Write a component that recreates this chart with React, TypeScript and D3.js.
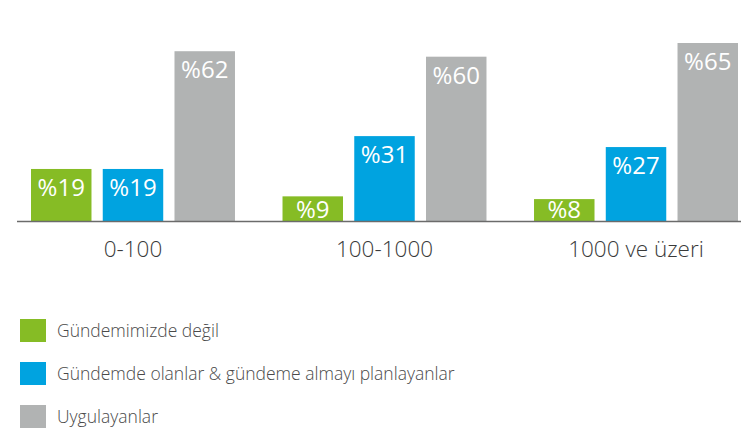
import React from "react";
import * as d3 from "d3";

const categories = ["0-100", "100-1000", "1000 ve üzeri"];
const seriesNames = [
  "Gündemimizde değil",
  "Gündemde olanlar & gündeme almayı planlayanlar",
  "Uygulayanlar",
];
const notOnAgenda = [19, 9, 8];
const planning = [19, 31, 27];
const implementing = [62, 60, 65];
const colors = ["#86BC25", "#00A3E0", "#B1B3B3"];

const W = 747;
const H = 439;
const baseY = 221;

export default function App() {
  const series = [notOnAgenda, planning, implementing];
  const x0 = d3.scaleBand().domain(categories).range([31, 738]).paddingInner(0.189).paddingOuter(0);
  const x1 = d3
    .scaleBand()
    .domain(seriesNames)
    .range([0, x0.bandwidth()])
    .paddingInner(0.157)
    .paddingOuter(0);
  const y = d3.scaleLinear().domain([0, 65]).range([baseY, 43]);

  return (
    <svg
      width={W}
      height={H}
      style={{ position: "absolute", left: 0, top: 0, fontFamily: "'Open Sans', sans-serif" }}
    >
      <rect width={W} height={H} fill="#fff" />
      {categories.map((c, ci) => (
        <g key={c}>
          {seriesNames.map((s, si) => {
            const v = series[si][ci];
            const bx = (x0(c) as number) + (x1(s) as number);
            const top = y(v);
            const ty = Math.min(top + 27, baseY - 3);
            return (
              <g key={s}>
                <rect x={bx} y={top} width={x1.bandwidth()} height={baseY - top} fill={colors[si]} />
                <text
                  x={bx + x1.bandwidth() / 2}
                  y={ty}
                  textAnchor="middle"
                  fill="#fff"
                  fontSize={24}
                  fontWeight={500}
                >
                  {"%" + v}
                </text>
              </g>
            );
          })}
          <text
            x={(x0(c) as number) + x0.bandwidth() / 2}
            y={257}
            textAnchor="middle"
            fill="#3a3a3a"
            fontSize={22.5}
            fontWeight={300}
          >
            {c}
          </text>
        </g>
      ))}
      <line x1={17} x2={741} y1={baseY + 0.5} y2={baseY + 0.5} stroke="#6b6b6b" strokeWidth={1.5} />
      {seriesNames.map((s, i) => (
        <g key={s} transform={`translate(20, ${319 + i * 43})`}>
          <rect width={26} height={23} fill={colors[i]} />
          <text x={37} y={18} fill="#4a4a4a" fontSize={17.5} fontWeight={300}>
            {s}
          </text>
        </g>
      ))}
    </svg>
  );
}
